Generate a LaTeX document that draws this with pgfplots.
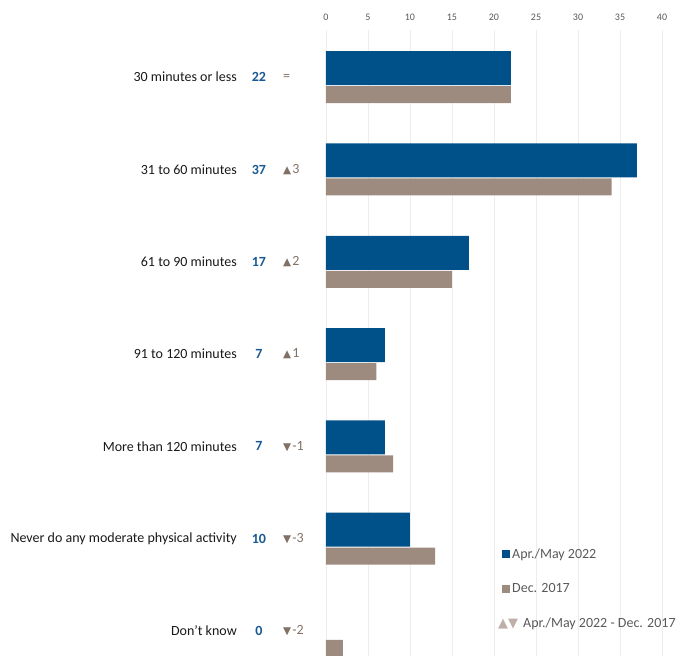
\documentclass[border=0pt]{standalone}
\usepackage{fontspec}
\setmainfont{Carlito}
\newfontfamily\sym{DejaVu Sans}
\usepackage{pgfplots}
\pgfplotsset{compat=1.18}
\definecolor{bblue}{RGB}{0,81,137}
\definecolor{bgray}{RGB}{158,139,128}
\definecolor{dtxt}{RGB}{128,112,102}
\definecolor{ltri}{RGB}{190,176,168}
\definecolor{valblue}{RGB}{24,88,146}
\definecolor{txt}{RGB}{25,25,25}
\definecolor{legtxt}{RGB}{89,89,89}
\newcommand{\up}{{\sym\fontsize{10.5}{10.5}\selectfont ▲}\hspace{1pt}}
\newcommand{\dn}{{\sym\fontsize{10.5}{10.5}\selectfont ▼}\hspace{1pt}}
\begin{document}
\begin{tikzpicture}
\begin{axis}[
  x=8.4pt, y=92.3pt,
  xmin=0, xmax=42, ymin=-0.271, ymax=6.511,
  clip=false,
  axis line style={draw=none},
  xtick={0,5,...,40},
  xticklabel pos=upper,
  major tick length=0pt,
  xmajorgrids,
  grid style={draw=black!7, line width=0.7pt},
  /pgf/number format/assume math mode=true,
  xticklabel style={font=\fontsize{10}{12}\selectfont, text=legtxt, inner sep=0pt, anchor=south, yshift=9pt},
  ytick={0,...,6},
  yticklabels={Don't know, Never do any moderate physical activity, More than 120 minutes, 91 to 120 minutes, 61 to 90 minutes, 31 to 60 minutes, 30 minutes or less},
  yticklabel style={font=\fontsize{14}{16}\selectfont, text=txt, inner sep=0pt, anchor=east, xshift=-89pt},
  legend style={at={(axis cs:20.95,0.915)}, anchor=north west, draw=none, fill=none,
    font=\fontsize{14}{16}\selectfont, text=legtxt, row sep=19.5pt, inner sep=0pt,
    nodes={inner sep=2pt}},
  legend cell align=left,
]
\addplot[xbar, bar width=34pt, bar shift=9pt, fill=bblue, draw=none,
  legend image code/.code={\fill[bblue] (0pt,-4pt) rectangle (8pt,4pt);}]
  coordinates {(22,6) (37,5) (17,4) (7,3) (7,2) (10,1)};
\addlegendentry{Apr./May 2022}
\addplot[xbar, bar width=17pt, bar shift=-17.5pt, fill=bgray, draw=none,
  legend image code/.code={\fill[bgray] (0pt,-4pt) rectangle (8pt,4pt);}]
  coordinates {(22,6) (34,5) (15,4) (6,3) (8,2) (13,1) (2,0)};
\addlegendentry{Dec. 2017}
\addlegendimage{legend image code/.code={}}
\addlegendentry{\hspace{-14pt}{\color{ltri}\sym\fontsize{13}{13}\selectfont ▲\hspace{0pt}▼}\hspace{5pt}Apr./May 2022 - Dec. 2017}

\begin{scope}[every node/.style={font=\fontsize{14}{16}\selectfont}]
\node[text=valblue, font=\fontsize{14}{16}\selectfont\bfseries] at (axis cs:-7.98,6) {22};
\node[text=valblue, font=\fontsize{14}{16}\selectfont\bfseries] at (axis cs:-7.98,5) {37};
\node[text=valblue, font=\fontsize{14}{16}\selectfont\bfseries] at (axis cs:-7.98,4) {17};
\node[text=valblue, font=\fontsize{14}{16}\selectfont\bfseries] at (axis cs:-7.98,3) {7};
\node[text=valblue, font=\fontsize{14}{16}\selectfont\bfseries] at (axis cs:-7.98,2) {7};
\node[text=valblue, font=\fontsize{14}{16}\selectfont\bfseries] at (axis cs:-7.98,1) {10};
\node[text=valblue, font=\fontsize{14}{16}\selectfont\bfseries] at (axis cs:-7.98,0) {0};
\node[text=dtxt, anchor=west, inner sep=0pt] at (axis cs:-5.12,6) {=};
\node[text=dtxt, anchor=west, inner sep=0pt] at (axis cs:-5.12,5) {\up 3};
\node[text=dtxt, anchor=west, inner sep=0pt] at (axis cs:-5.12,4) {\up 2};
\node[text=dtxt, anchor=west, inner sep=0pt] at (axis cs:-5.12,3) {\up 1};
\node[text=dtxt, anchor=west, inner sep=0pt] at (axis cs:-5.12,2) {\dn -1};
\node[text=dtxt, anchor=west, inner sep=0pt] at (axis cs:-5.12,1) {\dn -3};
\node[text=dtxt, anchor=west, inner sep=0pt] at (axis cs:-5.12,0) {\dn -2};
\end{scope}
\coordinate (bl) at (axis cs:-38.81,-0.271);
\coordinate (tr) at (axis cs:43.81,6.836);
\end{axis}
\pgfresetboundingbox
\path[use as bounding box] (bl) rectangle (tr);
\end{tikzpicture}
\end{document}
